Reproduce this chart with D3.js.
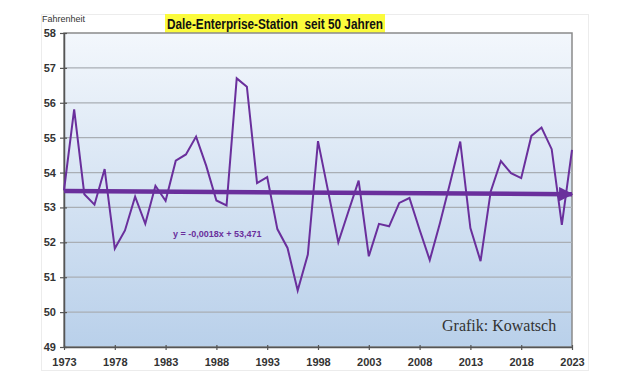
<!DOCTYPE html>
<html>
<head>
<meta charset="utf-8">
<script src="https://cdn.jsdelivr.net/npm/d3@7"></script>
<style>
  body { margin: 0; background: #fff; }
  svg { display: block; font-family: "Liberation Sans", Arial, sans-serif; }
</style>
</head>
<body>
<div id="chart"></div>
<script>
// yearly mean temperature, Dale Enterprise station (Fahrenheit)
var years = d3.range(1973, 2024);
var temps = [
  53.49, 55.81, 53.38, 53.08, 54.10, 51.82, 52.34, 53.31, 52.53, 53.62,
  53.19, 54.34, 54.52, 55.03, 54.19, 53.20, 53.06, 56.70, 56.46, 53.70,
  53.87, 52.38, 51.84, 50.62, 51.65, 54.90, 53.46, 52.00, 52.89, 53.77,
  51.60, 52.53, 52.46, 53.13, 53.27, 52.36, 51.49, 52.55, 53.70, 54.89,
  52.41, 51.46, 53.46, 54.33, 53.98, 53.84, 55.05, 55.29, 54.67, 52.50,
  54.65
];
var xTicks = [1973, 1978, 1983, 1988, 1993, 1998, 2003, 2008, 2013, 2018, 2023];
var yTicks = [49, 50, 51, 52, 53, 54, 55, 56, 57, 58];
// linear trend: y = -0.0018x + 53.471 (x = 1..51)
var trendSlope = -0.0018;
var trendIntercept = 53.471;

var width = 620;
var height = 387;
var margin = { top: 33, right: 48, bottom: 40, left: 64 };
var purple = "#6a2f9c";

var svg = d3.select("#chart").append("svg")
  .attr("width", width)
  .attr("height", height);

var defs = svg.append("defs");
var grad = defs.append("linearGradient")
  .attr("id", "bg")
  .attr("x1", 0).attr("y1", 0).attr("x2", 0).attr("y2", 1);
grad.append("stop").attr("offset", "0%").attr("stop-color", "#f3f7fc");
grad.append("stop").attr("offset", "100%").attr("stop-color", "#b9d0ea");

var marker = defs.append("marker")
  .attr("id", "arrow")
  .attr("viewBox", "0 0 10 10")
  .attr("refX", 9).attr("refY", 5)
  .attr("markerWidth", 3.2).attr("markerHeight", 3.2)
  .attr("orient", "auto");
marker.append("path").attr("d", "M0,0 L10,5 L0,10 Z").attr("fill", purple);

var x = d3.scaleLinear()
  .domain([1973, 2023])
  .range([margin.left, width - margin.right]);
var y = d3.scaleLinear()
  .domain([49, 58])
  .range([height - margin.bottom, margin.top]);

// outer chart frame
svg.append("rect")
  .attr("x", 41.5).attr("y", 14.5)
  .attr("width", 547).attr("height", 356)
  .attr("fill", "#fff")
  .attr("stroke", "#ececec");

// title background goes under the title text
var titleBg = svg.append("rect").attr("fill", "#fbfb3c");

// plot area
svg.append("rect")
  .attr("x", x(1973)).attr("y", y(58))
  .attr("width", x(2023) - x(1973))
  .attr("height", y(49) - y(58))
  .attr("fill", "url(#bg)")
  .attr("stroke", "#8a8a8a")
  .attr("stroke-width", 1.5);

// gridlines
svg.append("g")
  .selectAll("line")
  .data(yTicks.slice(1, -1))
  .enter()
  .append("line")
  .attr("x1", x(1973)).attr("x2", x(2023))
  .attr("y1", function (d) { return y(d); })
  .attr("y2", function (d) { return y(d); })
  .attr("stroke", "#a9aeb4")
  .attr("stroke-width", 1.2);

// axes
var xAxis = svg.append("g")
  .attr("transform", "translate(0," + y(49) + ")")
  .call(d3.axisBottom(x).tickValues(xTicks).tickFormat(d3.format("d")).tickSize(4).tickSizeOuter(0));
var yAxis = svg.append("g")
  .attr("transform", "translate(" + x(1973) + ",0)")
  .call(d3.axisLeft(y).tickValues(yTicks).tickSize(5).tickSizeOuter(0));

[xAxis, yAxis].forEach(function (ax) {
  ax.select(".domain").attr("stroke", "#555").attr("stroke-width", 1.5);
  ax.selectAll(".tick line").attr("stroke", "#555").attr("stroke-width", 1.2);
  ax.selectAll("text")
    .attr("fill", "#333")
    .style("font-size", "11px")
    .style("font-weight", "bold")
    .style("font-family", "\"Liberation Sans\", Arial, sans-serif");
});
xAxis.selectAll(".tick line").attr("y1", -2).attr("y2", 3);
xAxis.selectAll("text").attr("dy", "1.05em");
yAxis.selectAll(".tick line").attr("x1", -4).attr("x2", 3);
yAxis.selectAll("text").attr("x", -8);

// data line
var line = d3.line()
  .x(function (d, i) { return x(years[i]); })
  .y(function (d) { return y(d); });

svg.append("path")
  .datum(temps)
  .attr("d", line)
  .attr("fill", "none")
  .attr("stroke", purple)
  .attr("stroke-width", 2)
  .attr("stroke-linejoin", "miter");

// trend line with arrow
var trend = [1, years.length].map(function (i) {
  return { year: years[i - 1], value: trendSlope * i + trendIntercept };
});
svg.append("line")
  .attr("x1", x(trend[0].year)).attr("y1", y(trend[0].value))
  .attr("x2", x(trend[1].year)).attr("y2", y(trend[1].value))
  .attr("stroke", purple)
  .attr("stroke-width", 4.5)
  .attr("marker-end", "url(#arrow)");

svg.append("text")
  .attr("x", 173).attr("y", 237)
  .attr("fill", purple)
  .style("font-size", "9px")
  .style("font-weight", "bold")
  .text("y = -0,0018x + 53,471");

// title
var title = svg.append("text")
  .attr("x", 275).attr("y", 28.5)
  .attr("text-anchor", "middle")
  .attr("fill", "#111")
  .attr("textLength", 216)
  .attr("lengthAdjust", "spacingAndGlyphs")
  .style("font-size", "14px")
  .style("font-weight", "bold")
  .style("white-space", "pre")
  .text("Dale-Enterprise-Station  seit 50 Jahren");
titleBg
  .attr("x", 165).attr("y", 14)
  .attr("width", 220).attr("height", 19);

svg.append("text")
  .attr("x", 42).attr("y", 22)
  .attr("fill", "#333")
  .style("font-size", "9px")
  .text("Fahrenheit");

svg.append("text")
  .attr("x", 442).attr("y", 331)
  .attr("fill", "#333")
  .style("font-family", "\"Liberation Serif\", \"Times New Roman\", serif")
  .style("font-size", "16px")
  .text("Grafik: Kowatsch");
</script>
</body>
</html>
